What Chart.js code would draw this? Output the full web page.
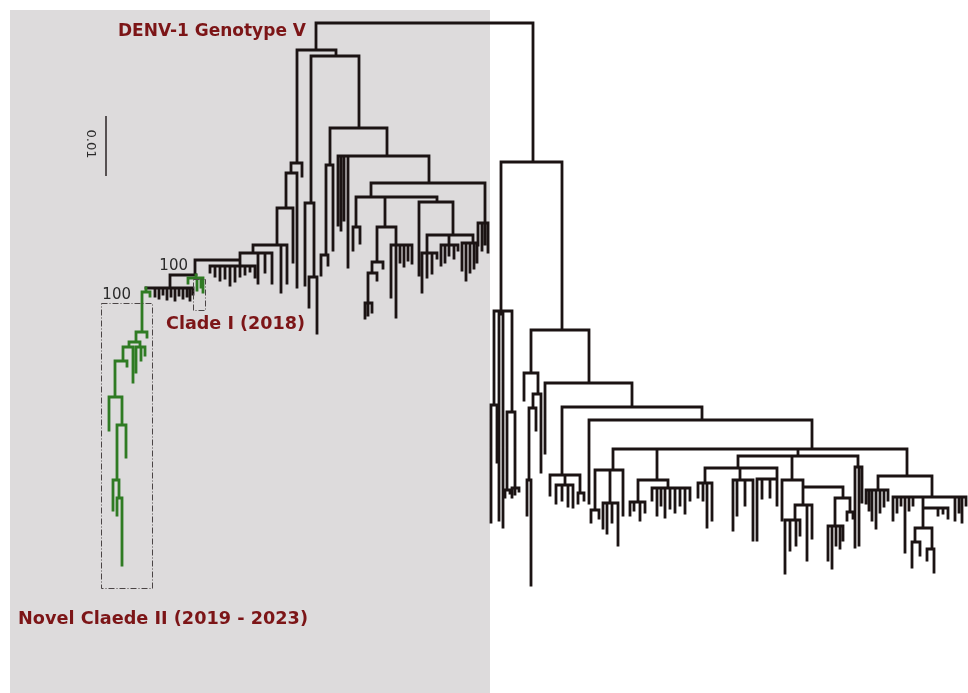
<!DOCTYPE html>
<html>
<head>
<meta charset="utf-8">
<script src="https://cdn.jsdelivr.net/npm/chart.js@4.4.1/dist/chart.umd.min.js"></script>
<style>
html,body{margin:0;padding:0;background:#ffffff;}
#wrap{width:968px;height:693px;position:relative;}
</style>
</head>
<body>
<div id="wrap"><canvas id="c"></canvas></div>
<script>
// ---------------- DATA ----------------
// Phylogenetic tree (rectangular, drawn top-down).
// nodeParent: index of parent node (-1 = root)
// nodePos:    position of node along the tip axis (layout units)
// nodeDepth:  divergence from root, in units of 1/6000 substitutions/site (scale bar 0.01 = 60 units)
const nodeParent = [
  -1,0,0, 1,1, 3,3, 6,6, 8,8, 10,10,10, 13,13,13,13, 17,
  18,18,18,18,18,18,18,18,18,18,
  17,29,
  30,30,30,30,30,30,30,30,30,30,30,
  30,42,42,44,44,46,47,47,47,46,51,51,53,53,55,55,57,57,59,59,61,61,
  29,64,64,64,64,
  4,69,69,71,71, 4,74,75,76,76,75, 74,80,80,80,80, 80,85,86,87,87, 86,90,91,91,93,93,95,95,95, 90,99,99,99,99,99,99, 86,106,106, 108,109,109,109,109, 108,114,114,114,114,114, 108,120,120,120,120,120, 85,126,126,126,126,
  2,2,131,133,133,131,136,136,131,139,140,140,139,143,143,143,
  132,147,147,149,149,151,151,153,153,
  132,156,156,158,159,159,161,161,161,161,159,166,166,
  158,169,169,171,172,173,173,172,176,176,176,176,172,
  171,182,183,183,183,183,182,188,188,188,188,188,188,188,188,188,
  171,198,199,200,200,200,200,199,205,205,205,205,199,210,210,210,210,
  198,215,215,217,218,219,219,219,219,218,218,217,226,227,227,227,227,227,226,233,233,
  198,236,236,236,
  171,240,241,241,241,241,241,241,241,240,249,249,249,249,249,249,249,256,257,258,258,257,261,261,256,256,256,249,249,249,249
];
const nodePos = [
  425,316,533, 297,336, 302,291, 297,286, 293,277, 287,281,253, 258,265,272,240, 240,
  210,215,220,225,230,235,240,245,250,255,
  195,170,
  155,159,163,167,171,175,179,183,187,190,193,
  146,150,142,147,136,140,136,141,145,129,133,123,127,115,109,122,126,117,113,119,117,122,
  196,188,197,201,203,
  311,305,314,309,317, 359,330,326,321,328,333, 387,338,341,344,348, 429,371,356,353,360, 385,377,383,372,377,368,365,368,372, 396,391,396,400,404,408,412, 437,419,453, 427,422,427,432,437, 449,441,445,449,454,458, 473,462,466,470,474,477, 485,478,482,485,488,
  501,562,494,491,497,502,499,503,512,507,505,510,515,512,515,519,
  531,524,538,541,533,536,529,527,531,
  589,545,632,562,550,565,556,562,568,573,580,578,584,
  702,589,812,613,595,591,599,610,603,607,612,618,623,
  657,638,630,634,640,645,668,652,657,661,665,670,675,680,685,690,
  798,738,705,698,703,707,712,740,733,737,745,753,777,757,762,770,777,
  792,782,803,803,795,785,790,796,800,807,812,843,835,828,832,836,840,843,850,847,853,
  858,855,859,862,
  907,878,866,869,872,876,880,884,888,932,893,897,901,905,909,913,923,923,915,912,920,932,927,934,938,943,948,955,959,962,966
];
const nodeDepth = [
  0,27,139, 140,33, 153,150, 264,185, 239,222, 260,269,230, 260,249,260,237, 243,
  249,253,257,255,262,258,253,251,248,254,
  252,265,
  273,275,271,276,273,277,272,275,273,277,271,
  269,273,309,314,319,324,349,337,332,324,359,338,343,374,407,402,434,457,487,475,492,542,
  255,260,267,264,269,
  180,262,254,284,310, 105,142,232,252,242,227, 133,202,207,197,244, 160,174,204,227,220, 204,239,245,250,257,280,295,292,289, 222,274,294,239,243,237,240, 179,252,212, 230,269,254,250,235, 222,242,239,232,235,227, 220,247,257,249,245,239, 200,222,227,221,229,
  288,307,382,499,439,291,497,504,389,467,474,470,465,474,471,468,
  350,377,371,449,385,407,457,492,562,
  360,430,384,452,472,462,480,477,483,484,470,480,477,
  397,480,426,447,487,499,495,480,505,510,499,522,492,
  457,479,492,487,497,489,465,477,492,482,494,485,489,482,490,477,
  433,445,460,474,477,504,497,457,507,492,482,517,456,517,475,474,482,
  457,497,464,482,497,550,527,522,512,537,515,475,503,537,545,522,525,517,489,497,495,
  444,524,522,479,
  453,467,480,487,497,505,489,483,477,474,497,489,482,529,487,482,485,505,519,544,532,526,537,549,492,490,495,497,489,499,482
];
// roots of highlighted (green) clades: Novel Clade II, Clade I
const greenCladeRoots = [42, 64];
const bootstrapNodes = [29, 42];
const bootstrapValues = [100, 100];
const cladeLabels = ['DENV-1 Genotype V', 'Clade I (2018)', 'Novel Claede II (2019 - 2023)'];
const scaleBarValue = 0.01;
const depthUnitsPerSubst = 6000;

// ---------------- BUILD SEGMENTS ----------------
const n = nodeParent.length;
const children = Array.from({length: n}, () => []);
nodeParent.forEach((p, i) => { if (p >= 0) children[p].push(i); });
const isGreen = new Array(n).fill(false);
function markGreen(i){ isGreen[i] = true; children[i].forEach(markGreen); }
greenCladeRoots.forEach(markGreen);

const blackSegs = [], greenSegs = [];
function addSeg(arr, x1, y1, x2, y2){
  arr.push({x: x1, y: y1}, {x: x2, y: y2}, {x: x2, y: null});
}
for (let i = 0; i < n; i++) {
  const arr = isGreen[i] ? greenSegs : blackSegs;
  const p = nodeParent[i];
  if (p >= 0) addSeg(arr, nodePos[i], nodeDepth[p], nodePos[i], nodeDepth[i]);
  if (children[i].length) {
    const xs = children[i].map(c => nodePos[c]).concat([nodePos[i]]);
    addSeg(arr, Math.min(...xs), nodeDepth[i], Math.max(...xs), nodeDepth[i]);
  }
}
const scaleBarLen = scaleBarValue * depthUnitsPerSubst;
const scaleBarData = [{x: 106, y: 93}, {x: 106, y: 93 + scaleBarLen}];

// ---------------- LAYOUT / STYLE ----------------
const SHADE = {x0: 10, x1: 490, y0: -13, y1: 670};
const BOXES = [
  {x0: 101, x1: 152, y0: 280, y1: 565},
  {x0: 193, x1: 205, y0: 256, y1: 287}
];
const LABEL_COLOR = '#7c1517';
const LABEL_FONT = 'bold 17px "DejaVu Sans", Verdana, sans-serif';
const labelPlacement = [
  {x: 118, y: 9, w: 188},
  {x: 166, y: 302, w: 139},
  {x: 18, y: 597, w: 290}
];
const bootstrapPlacement = [
  {x: 188, y: 243},
  {x: 131, y: 272}
];

const bgPlugin = {
  id: 'bg',
  beforeDraw(chart){
    const {ctx, scales:{x, y}} = chart;
    ctx.save();
    ctx.fillStyle = '#ffffff';
    ctx.fillRect(0, 0, chart.width, chart.height);
    ctx.fillStyle = '#dddbdc';
    const px0 = x.getPixelForValue(SHADE.x0), px1 = x.getPixelForValue(SHADE.x1);
    const py0 = y.getPixelForValue(SHADE.y0), py1 = y.getPixelForValue(SHADE.y1);
    ctx.fillRect(px0, py0, px1 - px0, py1 - py0);
    ctx.restore();
  }
};

const annotPlugin = {
  id: 'annot',
  afterDatasetsDraw(chart){
    const {ctx, scales:{x, y}} = chart;
    ctx.save();
    // dashed boxes around clades
    ctx.strokeStyle = '#4a4445';
    ctx.lineWidth = 1;
    ctx.setLineDash([6, 2, 1, 2]);
    BOXES.forEach(b => {
      const a = x.getPixelForValue(b.x0), c = x.getPixelForValue(b.x1);
      const t = y.getPixelForValue(b.y0), u = y.getPixelForValue(b.y1);
      ctx.strokeRect(Math.round(a) + 0.5, Math.round(t) + 0.5, Math.round(c - a), Math.round(u - t));
    });
    ctx.setLineDash([]);
    // clade labels (stretched to the measured label width)
    ctx.fillStyle = LABEL_COLOR;
    ctx.font = LABEL_FONT;
    ctx.textAlign = 'left';
    ctx.textBaseline = 'middle';
    cladeLabels.forEach((t, i) => {
      const L = labelPlacement[i];
      const px = x.getPixelForValue(L.x), py = y.getPixelForValue(L.y);
      const w = ctx.measureText(t).width;
      const sx = Math.min(1.08, Math.max(0.95, L.w / w));
      ctx.save();
      ctx.translate(px, py);
      ctx.scale(sx, 1);
      ctx.fillText(t, 0, 0);
      ctx.restore();
    });
    // bootstrap values
    ctx.fillStyle = '#2b2b2b';
    ctx.font = '15px "DejaVu Sans", Verdana, sans-serif';
    ctx.textAlign = 'right';
    ctx.textBaseline = 'middle';
    bootstrapValues.forEach((v, i) => {
      const B = bootstrapPlacement[i];
      ctx.fillText(String(v), x.getPixelForValue(B.x), y.getPixelForValue(B.y));
    });
    // scale bar text
    ctx.fillStyle = '#2b2b2b';
    ctx.font = '13px "DejaVu Sans", Verdana, sans-serif';
    ctx.textAlign = 'center';
    ctx.textBaseline = 'middle';
    const sx = x.getPixelForValue(90), sy = y.getPixelForValue(93 + scaleBarLen / 2 - 2);
    ctx.translate(sx, sy);
    ctx.rotate(Math.PI / 2);
    ctx.fillText(String(scaleBarValue), 0, 0);
    ctx.restore();
  }
};

new Chart(document.getElementById('c'), {
  type: 'scatter',
  data: {
    datasets: [
      {label: 'Genotype V / others', data: blackSegs, showLine: true, spanGaps: false,
       borderColor: '#1b1313', borderWidth: 2.8, borderCapStyle: 'square', borderJoinStyle: 'miter',
       pointRadius: 0, pointHoverRadius: 0, clip: false, order: 3},
      {label: 'Clade I / Novel Clade II', data: greenSegs, showLine: true, spanGaps: false,
       borderColor: '#2f7b23', borderWidth: 2.8, borderCapStyle: 'square', borderJoinStyle: 'miter',
       pointRadius: 0, pointHoverRadius: 0, clip: false, order: 2},
      {label: 'scale', data: scaleBarData, showLine: true, borderColor: '#2b2424', borderWidth: 1.5,
       pointRadius: 0, pointHoverRadius: 0, clip: false, order: 1}
    ]
  },
  options: {
    responsive: true,
    maintainAspectRatio: false,
    animation: false,
    events: [],
    layout: {padding: 0},
    plugins: {legend: {display: false}, tooltip: {enabled: false}, title: {display: false}},
    scales: {
      x: {type: 'linear', min: 0, max: 968, display: false},
      y: {type: 'linear', min: -23, max: 670, reverse: true, display: false}
    }
  },
  plugins: [bgPlugin, annotPlugin]
});
</script>
</body>
</html>
